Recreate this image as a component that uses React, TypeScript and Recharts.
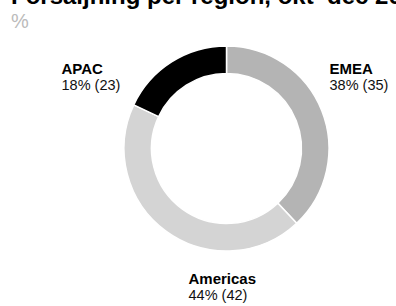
import React from 'react';
import { PieChart, Pie, Cell } from 'recharts';

const regions = ['EMEA', 'Americas', 'APAC'];
const shares = [38, 44, 18];
const previous = [35, 42, 23];
const colors = ['#b4b4b4', '#d4d4d4', '#000000'];

const data = regions.map((name, i) => ({ name, share: shares[i], prev: previous[i] }));

// label anchors relative to the ring centre (text start, first baseline)
const labelOffsets = [
  { dx: 103, dy: -75 },
  { dx: -38, dy: 135 },
  { dx: -165, dy: -75 },
];

const renderLabel = (props: any) => {
  const { cx, cy, index } = props;
  const d = data[index];
  const o = labelOffsets[index];
  const x = cx + o.dx;
  const y = cy + o.dy;
  return (
    <g key={`lbl-${index}`}>
      <text x={x} y={y} fill="#000" fontSize={15} fontWeight={700} fontFamily="Liberation Sans, Arial, sans-serif">
        {d.name}
      </text>
      <text x={x} y={y + 16} fill="#111" fontSize={14.5} fontFamily="Liberation Sans, Arial, sans-serif">
        {`${d.share}% (${d.prev})`}
      </text>
    </g>
  );
};

export default function App() {
  return (
    <div
      style={{
        position: 'absolute',
        left: 0,
        top: 0,
        width: 396,
        height: 306,
        overflow: 'hidden',
        background: '#fff',
        fontFamily: 'Liberation Sans, Arial, sans-serif',
      }}
    >
      <div
        style={{
          position: 'absolute',
          left: 11,
          top: -16,
          fontSize: 24,
          lineHeight: '24px',
          fontWeight: 700,
          color: '#000',
          whiteSpace: 'nowrap',
        }}
      >
        Försäljning per region, okt–dec 2023
      </div>
      <div
        style={{
          position: 'absolute',
          left: 11,
          top: 11,
          fontSize: 20,
          lineHeight: '20px',
          color: '#bbbbbb',
        }}
      >
        %
      </div>
      <div style={{ position: 'absolute', left: 0, top: 0 }}>
        <PieChart width={396} height={306} margin={{ top: 0, right: 0, bottom: 0, left: 0 }}>
          <Pie
            data={data}
            dataKey="share"
            nameKey="name"
            cx={226.5}
            cy={148.5}
            innerRadius={75}
            outerRadius={102.5}
            startAngle={90}
            endAngle={-270}
            stroke="#fff"
            strokeWidth={1.5}
            label={renderLabel}
            labelLine={false}
            isAnimationActive={false}
          >
            {data.map((d, i) => (
              <Cell key={d.name} fill={colors[i]} />
            ))}
          </Pie>
        </PieChart>
      </div>
    </div>
  );
}
